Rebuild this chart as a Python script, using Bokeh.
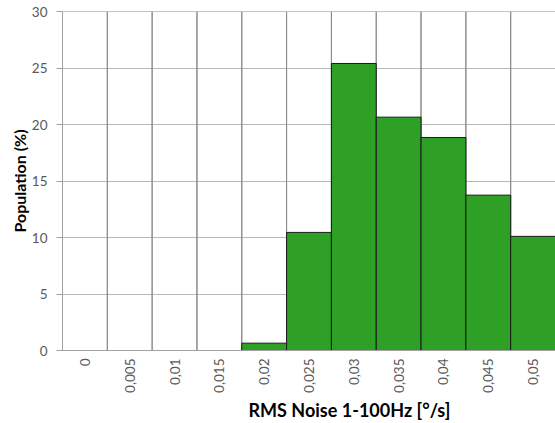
import math
from bokeh.plotting import figure
from bokeh.models import Range1d, FactorRange, Title, FixedTicker
from bokeh.embed import file_html
from bokeh.resources import INLINE

categories = ["0", "0,005", "0,01", "0,015", "0,02", "0,025", "0,03", "0,035", "0,04", "0,045", "0,05"]
population = [0, 0, 0, 0, 0.65, 10.45, 25.4, 20.65, 18.85, 13.75, 10.1]
y_ticks = [0, 5, 10, 15, 20, 25, 30]
y_max = 30

FONT = "Lato"

p = figure(x_range=FactorRange(*categories), y_range=Range1d(0, y_max),
           width=555, height=422, output_backend="svg", toolbar_location=None,
           min_border_left=62, min_border_right=0, min_border_top=11, min_border_bottom=72)
p.outline_line_color = None
p.background_fill_color = "white"

# category cells for vertical grid lines at boundaries
p.vbar(x=categories, top=[y_max] * len(categories), width=1.0, bottom=0,
       fill_color=None, line_color="#8c8c8c", line_width=1)

p.vbar(x=categories, top=population, width=1.0, fill_color="#2ea026",
       line_color="#1a1a1a", line_width=1)

p.xgrid.grid_line_color = None
p.ygrid.grid_line_color = "#b8b8b8"
p.ygrid.ticker = FixedTicker(ticks=y_ticks)
p.yaxis.ticker = FixedTicker(ticks=y_ticks)

for ax in (p.xaxis, p.yaxis):
    ax.axis_line_color = "#a0a0a0"
    ax.major_tick_line_color = "#a0a0a0"
    ax.minor_tick_line_color = None
    ax.major_label_text_font = FONT
    ax.major_label_text_font_size = "13.5px"
    ax.major_label_text_color = "#595959"

p.yaxis.major_tick_out = 6
p.yaxis.major_tick_in = 0
p.yaxis.major_label_standoff = 9
p.yaxis.axis_label = "Population (%)"
p.yaxis.axis_label_text_font = FONT
p.yaxis.axis_label_text_font_size = "16px"
p.yaxis.axis_label_text_font_style = "bold"
p.yaxis.axis_label_text_color = "black"
p.yaxis.axis_label_standoff = 0

p.xaxis.major_tick_out = 0
p.xaxis.major_tick_in = 0
p.xaxis.major_label_orientation = math.pi / 2
p.xaxis.major_label_standoff = 8

t = Title(text="RMS Noise 1-100Hz [°/s]", align="left", offset=186,
          text_font=FONT, text_font_size="18px", text_font_style="bold",
          text_color="black", standoff=3)
p.add_layout(t, "below")

open("out.html", "w").write(file_html(p, INLINE))
